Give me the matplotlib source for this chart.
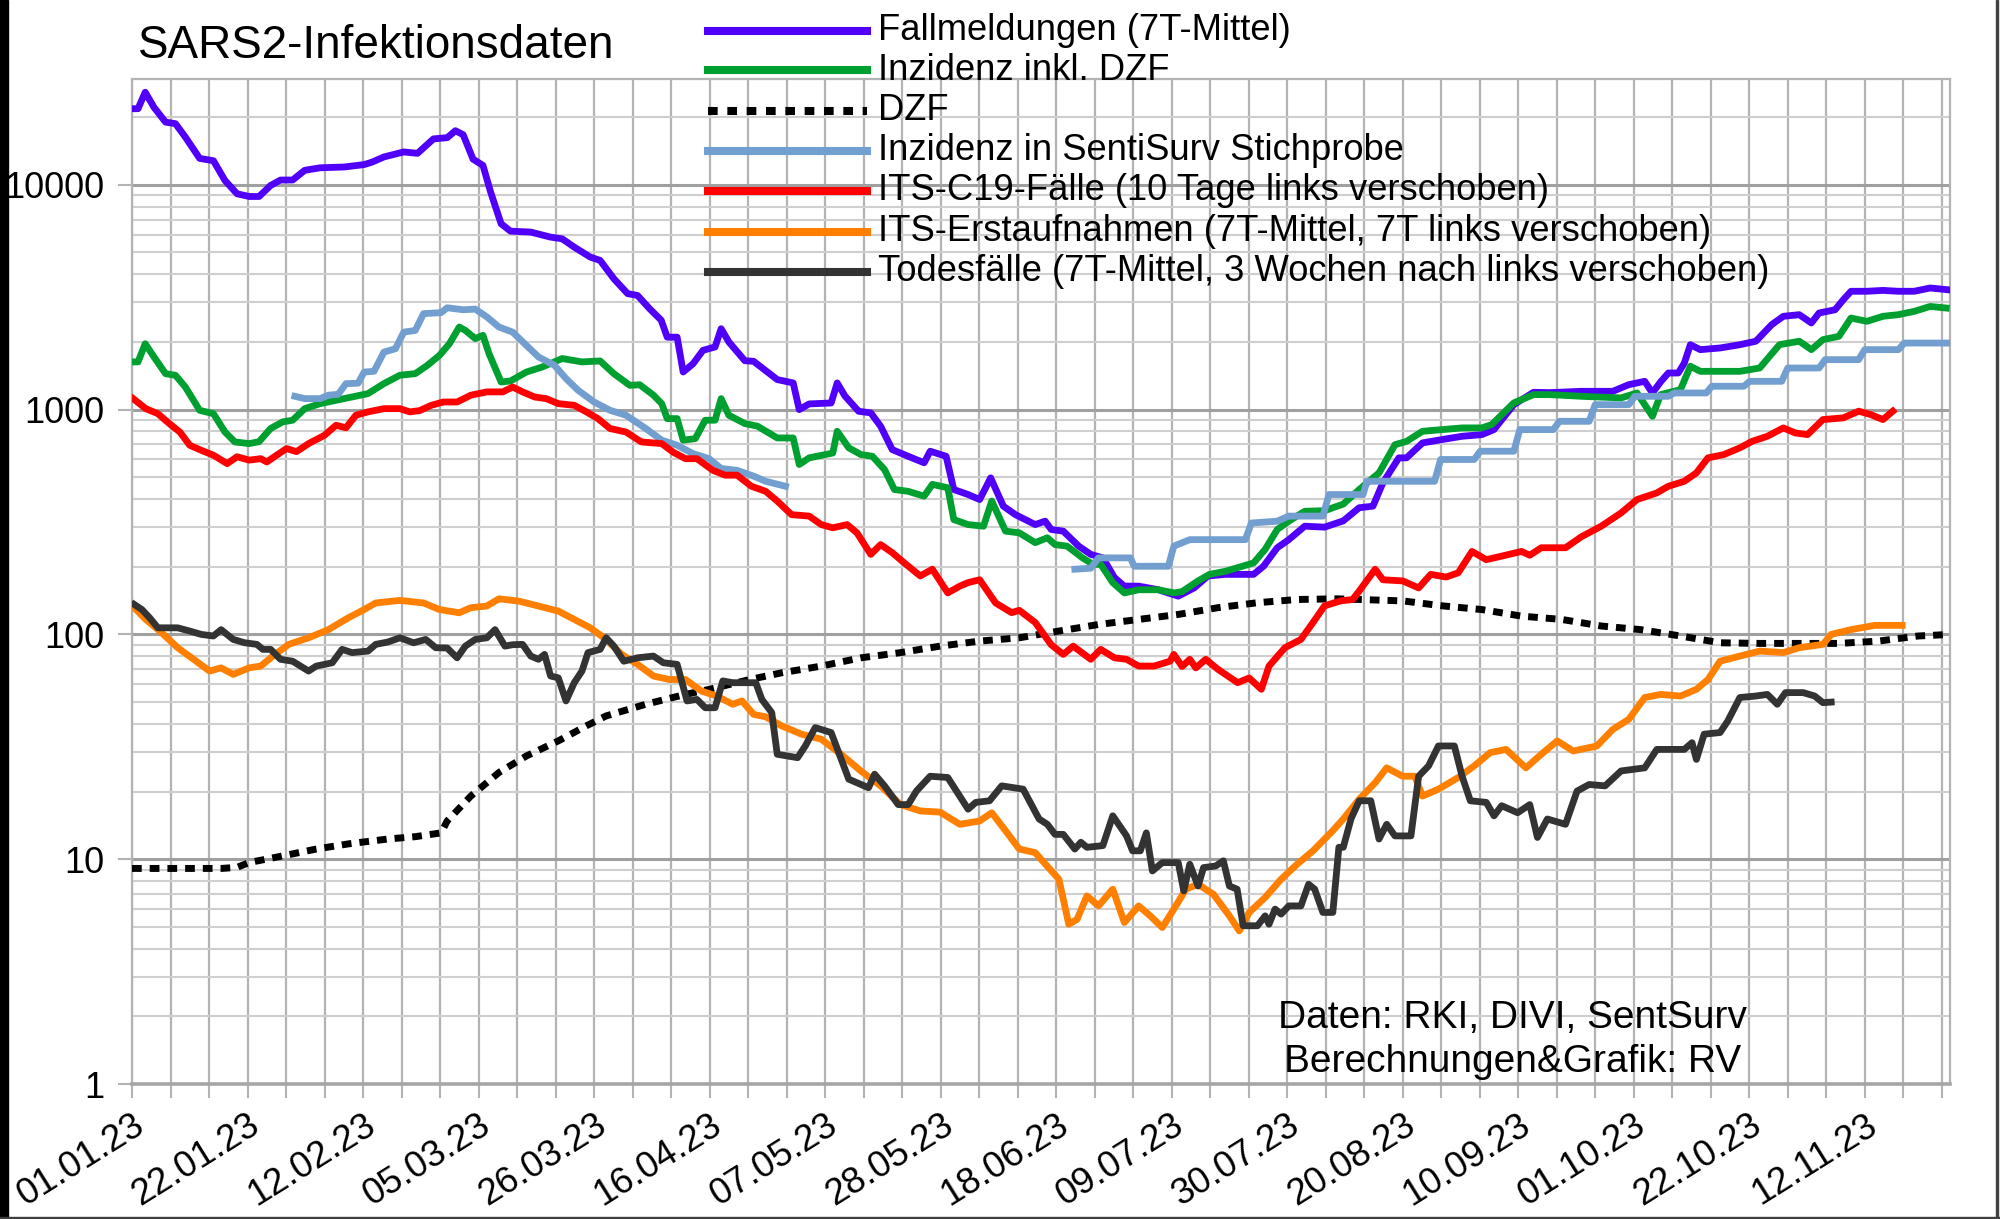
import numpy as np
import matplotlib
matplotlib.use("Agg")
import matplotlib.pyplot as plt
from matplotlib.lines import Line2D
from matplotlib.patches import Rectangle
import matplotlib.ticker as mticker

plt.rcParams['font.family'] = ['Liberation Sans', 'DejaVu Sans']

# ---------------- data (day offset from 01.01.23, value) ----------------
fall_days = [0, 1.1, 2.4, 4, 6.1, 7.9, 9.7, 12.3, 14.8, 16.9, 19.1, 21.3, 23.1, 25.2, 27, 29.2, 31.4, 34.2, 38.6,
             42.2, 43.6, 45.8, 49.4, 51.9, 54.8, 57.3, 58.8, 60.2, 62, 63.8, 65.2, 67.1, 68.8, 72.5, 76.1, 78.2,
             80.4, 83.3, 85.1, 87.6, 90.1, 91.9, 94.1, 96.2, 97.3, 99.1, 100.2, 102, 103.8, 106, 107.1, 108.5,
             111.4, 113, 117.3, 120.2, 121.3, 123.1, 127.1, 128.2, 129.6, 132.1, 134.3, 136.1, 138.2, 141.1, 144,
             145.1, 148, 149.4, 152, 154.1, 156.1, 158.4, 160.6, 164.2, 166, 167.1, 169.3, 172.1, 174.3, 176.5,
             178.6, 180.4, 183, 186.6, 190.2, 193.1, 195.6, 198.8, 203.9, 205.7, 208.2, 210.3, 213.2, 216.8,
             220.2, 223.1, 225.6, 227.4, 230.3, 231.7, 234.6, 238.2, 241.8, 245.4, 247.6, 251.2, 254.8, 257.7,
             263.5, 269.2, 272.1, 275, 276.4, 277.9, 279.3, 281.1, 282.2, 283.3, 285.1, 288.7, 292.3, 295.2,
             298.1, 300.2, 303.1, 305.3, 306.7, 309.6, 311.1, 312.5, 315.4, 318.3, 321.1, 324, 326.9, 330]
fall_vals = [21800, 21800, 25800, 22100, 19000, 18700, 16300, 13100, 12800, 10450, 9120, 8870, 8870, 9930, 10500,
             10500, 11600, 11900, 12000, 12300, 12600, 13300, 14000, 13800, 16000, 16200, 17400, 16700, 13000,
             12200, 9270, 6710, 6220, 6160, 5850, 5750, 5280, 4770, 4610, 3820, 3280, 3220, 2810, 2500, 2100,
             2100, 1470, 1600, 1835, 1900, 2290, 2000, 1650, 1640, 1360, 1314, 1000, 1060, 1070, 1314, 1150, 983,
             967, 843, 664, 620, 580, 653, 620, 441, 419, 398, 497, 372, 341, 308, 319, 293, 288, 247, 227, 219,
             179, 164, 164, 158, 148, 161, 182, 185, 185, 201, 243, 264, 303, 300, 320, 366, 372, 472, 610, 610,
             711, 736, 761, 774, 815, 1052, 1194, 1190, 1206, 1206, 1291, 1336, 1186, 1330, 1455, 1455, 1611,
             1944, 1848, 1880, 1944, 2014, 2389, 2600, 2644, 2428, 2690, 2780, 3080, 3360, 3360, 3390, 3360,
             3360, 3475, 3415]

inz_days = [0.2, 1.1, 2.4, 4, 6.1, 7.9, 9.7, 12.3, 14.8, 16.9, 18.7, 21.3, 23.1, 25.2, 27.4, 29.2, 31.4, 34.2,
            37.1, 40, 42.9, 45.8, 48.7, 51.5, 53.7, 55.9, 57.7, 59.5, 60.6, 62.4, 63.8, 64.9, 67.1, 68.8, 71.7,
            74.6, 78.2, 81.8, 85.1, 87.6, 90.5, 92.3, 94.8, 96.3, 97.3, 99.1, 100.2, 102.4, 104.2, 106, 107.1,
            108.5, 111.4, 113.7, 117.3, 120.2, 121.3, 123.1, 127.4, 128.2, 130.3, 132.5, 134.6, 136.8, 138.6,
            141.1, 144, 145.5, 148.3, 149.4, 152, 154.8, 156.3, 158.8, 161.3, 164.2, 166.4, 167.8, 170, 172.8,
            174.7, 176.1, 178.3, 180.4, 183, 186.6, 189.4, 190.9, 193.8, 195.9, 198.8, 203.9, 206, 208.2, 210.3,
            213.2, 216.8, 220.2, 223.1, 226.7, 229.6, 231.7, 234.6, 238.2, 241.8, 245.4, 247.2, 251.2, 254.8,
            257.7, 263.5, 270.7, 273.6, 276.4, 277.9, 281.5, 283.3, 285.1, 292.3, 295.9, 299.5, 303.1, 305.3,
            307.4, 310.3, 312.5, 315.4, 318.3, 321.1, 324, 326.9, 329.8]
inz_vals = [1630, 1630, 1963, 1714, 1445, 1421, 1260, 993, 959, 795, 718, 706, 720, 824, 882, 897, 1010, 1063,
            1100, 1138, 1178, 1305, 1422, 1445, 1574, 1743, 1963, 2330, 2250, 2070, 2140, 1775, 1327, 1340, 1469,
            1548, 1687, 1630, 1646, 1445, 1282, 1290, 1159, 1063, 912, 912, 731, 743, 897, 897, 1119, 944, 867,
            844, 748, 748, 570, 610, 641, 801, 676, 631, 620, 541, 441, 433, 412, 465, 449, 324, 308, 303, 392,
            288, 283, 256, 269, 251, 247, 219, 205, 205, 170, 153, 158, 158, 153, 155, 173, 185, 191, 208, 239,
            293, 319, 353, 355, 380, 441, 523, 698, 722, 801, 815, 829, 829, 858, 1071, 1166, 1166, 1146, 1127,
            1186, 934, 1166, 1227, 1559, 1480, 1480, 1531, 1944, 2014, 1848, 2047, 2118, 2554, 2470, 2600, 2644,
            2735, 2877, 2830]

dzf_days = [0, 16.2, 19.1, 21.3, 27, 33.5, 39.3, 46.5, 51.5, 56.2, 57.3, 61.6, 66.7, 71.7, 77.5, 82.6, 86.2,
            93.4, 100.6, 105, 112.3, 118.1, 125.3, 132.5, 139.7, 146.9, 154.1, 161.3, 168.5, 175.7, 183, 190.2,
            197.4, 204.6, 211.8, 219, 223.1, 231, 238.2, 245.4, 252.6, 259.9, 267.1, 274.3, 281.5, 288.7, 295.9,
            303.1, 310.3, 317.5, 324.7, 330.5]
dzf_vals = [9.1, 9.1, 9.2, 9.67, 10.3, 11.1, 11.7, 12.3, 12.6, 13.1, 14.8, 19.1, 24.3, 28.8, 33.6, 39.2, 43.4,
            48.9, 54.1, 57, 63, 67.5, 72.3, 78.7, 83, 88.7, 93.4, 96.6, 103.5, 110.7, 116.6, 122.7, 131.5, 138.4,
            143, 144, 143, 141, 134, 129, 120.6, 116.6, 109, 105, 98.4, 91.8, 91.2, 91.2, 91.2, 93.4, 98.4, 100]

senti1_days = [29.6, 31.4, 34.2, 35.7, 37.5, 38.9, 41.1, 42.2, 44, 45.8, 47.9, 49.4, 51.5, 53, 56.2, 57.3, 60.2,
               62.4, 64.5, 66.7, 69.2, 71.7, 73.9, 76.8, 78.9, 81.1, 84, 86.9, 89.8, 93.4, 96.3, 99.1, 102, 104.9,
               107.1, 110, 113, 115.2, 118.8]
senti1_vals = [1146, 1119, 1119, 1159, 1170, 1305, 1310, 1469, 1480, 1803, 1866, 2211, 2250, 2672, 2700, 2838,
               2780, 2800, 2585, 2330, 2211, 1930, 1714, 1574, 1374, 1219, 1081, 993, 944, 824, 731, 694, 637, 605,
               547, 537, 506, 480, 456]
senti2_days = [171.4, 174.3, 175.7, 181.5, 182.2, 188.4, 189.4, 192.3, 202.4, 203.5, 208.2, 210.3, 216.5, 217.6,
               223.8, 224.5, 236.8, 237.9, 244, 245.1, 251.2, 252.3, 258.4, 259.5, 264.9, 266, 272.1, 273.2,
               279.3, 280.4, 286.2, 287.2, 293, 294.1, 299.9, 301, 306.7, 307.8, 313.9, 315, 321.1, 322.2, 330]
senti2_vals = [195, 197, 219, 219, 201, 201, 247, 264, 264, 313, 319, 336, 336, 419, 419, 480, 480, 600, 600, 653,
               653, 815, 815, 887, 887, 1052, 1052, 1146, 1146, 1186, 1186, 1270, 1270, 1336, 1336, 1531, 1531,
               1668, 1668, 1848, 1848, 1977, 1977]

its_days = [0.2, 2.5, 4.7, 6.8, 8.7, 10.5, 12.6, 14.8, 17.3, 19.1, 21.3, 23.4, 24.5, 26.3, 28.1, 29.9, 32.1, 35,
            37.1, 38.9, 40.7, 42.9, 45.8, 48.7, 50.5, 52.3, 54.4, 56.6, 59.1, 61.6, 64.5, 67.4, 69.2, 71, 73.2,
            75.3, 77.5, 80.4, 82.6, 84.7, 86.9, 89.8, 92.6, 96.3, 98.4, 100.6, 102.7, 105.6, 107.8, 110, 112.6,
            115.2, 117.3, 119.9, 123.1, 125.3, 127.4, 130, 131.8, 134.3, 136.1, 138.2, 140.4, 143.3, 145.5, 148.3,
            150.5, 152, 154.1, 157, 159.9, 161.3, 164.2, 167.1, 169.3, 171.1, 174.3, 176.1, 178.6, 180.8, 183,
            185.8, 188.7, 189.4, 190.9, 192.3, 193.4, 195.2, 197.4, 201, 203.1, 205.3, 206.7, 209.6, 212.5, 214.7,
            216.8, 219.7, 221.9, 223.1, 226, 227.4, 231, 233.9, 236.1, 238.9, 241.1, 243.6, 246.2, 249, 252.6,
            254.1, 256.2, 260.6, 263.5, 267.1, 270.7, 273.6, 277.2, 279.3, 282.2, 284.4, 286.5, 289.4, 292.3,
            294.5, 297.3, 300.2, 302.4, 304.6, 307.4, 311.1, 313.9, 316.1, 318.3, 320.1]
its_vals = [1119, 1010, 959, 866, 795, 694, 659, 627, 575, 617, 596, 605, 585, 627, 671, 650, 706, 769, 852, 830,
            944, 977, 1010, 1010, 977, 990, 1045, 1081, 1081, 1159, 1199, 1199, 1260, 1199, 1138, 1119, 1063, 1045,
            977, 912, 824, 795, 718, 706, 646, 605, 605, 537, 511, 511, 456, 433, 392, 341, 336, 308, 298, 308,
            283, 227, 251, 231, 208, 182, 195, 153, 164, 170, 175, 138, 125, 128, 113, 90, 81.5, 88.7, 77.5, 85.8,
            78.7, 77.5, 72.3, 72.3, 76, 81.5, 72, 77.5, 71, 77.5, 70, 61, 64, 57, 72.3, 87.3, 95, 113, 134, 141,
            143, 156, 195, 175, 173, 161, 185, 180, 188, 234, 215, 223, 234, 225, 243, 243, 272, 303, 347, 398,
            426, 456, 480, 523, 610, 631, 676, 722, 761, 829, 787, 774, 903, 919, 984, 950, 903, 984]

erst_days = [0.4, 2.5, 5.4, 8.3, 11.2, 14.1, 16.2, 18.4, 21.3, 23.4, 25.6, 28.5, 32.1, 35.7, 39.3, 42.2, 44.3,
             48.7, 53, 55.9, 59.5, 61.6, 64.5, 66.7, 70.3, 73.9, 77.5, 80.4, 83.3, 86.2, 89, 91.9, 94.8, 97.7,
             100.6, 103.5, 106.3, 109.2, 110.9, 113, 115.2, 118.1, 121.7, 125.3, 128.9, 132.5, 136.1, 139.7, 143.3,
             146.9, 150.5, 154.1, 156.3, 158.4, 161.3, 164.2, 166.4, 168.5, 170.3, 171.8, 173.6, 175.7, 178.3,
             180.4, 183, 185.1, 187.3, 189.4, 191.6, 193.8, 196.6, 199.5, 201.3, 203.1, 206, 208.9, 211.8, 214.7,
             218.3, 220.2, 223.1, 226, 228.1, 231, 233.2, 234.6, 237.5, 241.1, 244, 246.9, 249.8, 253.4, 256.2,
             259.1, 262, 266.3, 269.2, 272.1, 275, 277.9, 281.5, 284.4, 286.5, 288.7, 292.3, 295.9, 300.2, 303.1,
             307.4, 308.9, 312.5, 316.8, 321.8]
erst_vals = [131.5, 116.6, 101.7, 87.3, 77.5, 68.7, 71, 66.4, 71, 72.3, 80.1, 90.3, 96.6, 105, 118.5, 129, 138,
             141.7, 138, 129, 124.8, 131.5, 133.7, 144, 140.7, 133.7, 127, 116.6, 107, 95, 81.5, 73.6, 65.3, 63, 63,
             56, 53.2, 48.9, 50.6, 44.1, 43, 39.2, 36, 34.2, 29.3, 24.7, 21.2, 17.5, 16.4, 16.2, 14.3, 14.8, 16.1,
             13.8, 11.1, 10.7, 9.3, 8.15, 5.14, 5.4, 6.87, 6.2, 7.36, 5.23, 6.2, 5.6, 4.97, 6.0, 7.36, 7.74, 6.98,
             5.6, 4.8, 5.8, 6.76, 8.15, 9.5, 10.9, 13.4, 15.1, 18.5, 21.9, 25.5, 23.4, 23.4, 19.1, 20.5, 23.1, 26,
             29.8, 30.8, 25.5, 29.3, 33.6, 30.3, 31.9, 37.8, 41.9, 52.4, 54.1, 53.2, 57, 63, 76, 80.1, 84.3, 83,
             87.3, 90.3, 100, 105, 109.7, 109.7]

tod_days = [0.4, 1.8, 3.2, 4.7, 8.3, 10.5, 12.6, 14.8, 16.2, 18.4, 20.5, 22.7, 23.8, 25.2, 27, 29.2, 32.1, 33.5,
            36.4, 38.2, 40, 42.9, 44.3, 46.5, 48.7, 51.2, 53.4, 55.2, 57.3, 59.1, 60.6, 62.4, 64.5, 66, 67.8, 69.2,
            71, 72.5, 73.9, 75, 76.1, 77.5, 78.9, 80.4, 81.8, 82.9, 85.1, 86.2, 87.6, 89.4, 91.9, 94.8, 96.6, 99.1,
            100.9, 102.7, 104.2, 106, 107.4, 109.2, 113.4, 114.5, 116.3, 117.3, 121, 122.4, 124.2, 127.1, 130.3,
            133.9, 135, 136.8, 139.3, 141.1, 142.6, 145.1, 148.3, 152, 153.4, 155.9, 158.1, 162, 164.9, 166.4,
            167.8, 169.3, 171.4, 172.5, 173.6, 176.5, 178.3, 180.8, 181.9, 183.3, 184.4, 185.5, 187.3, 190.2,
            191.2, 192.3, 193.8, 194.8, 197, 198.4, 199.5, 200.9, 202, 204.6, 206, 206.7, 207.8, 208.9, 210.3,
            212.5, 213.9, 215, 216.5, 218.3, 219.4, 220.2, 221.6, 223.1, 225.2, 226.7, 228.1, 229.6, 232.5, 233.9,
            235.7, 237.5, 240.4, 241.8, 243.3, 246.2, 247.6, 249, 251.9, 254.1, 255.5, 257.3, 260.6, 262.7, 264.9,
            267.8, 270.7, 275, 277.2, 282.2, 283.6, 284.4, 285.8, 288.7, 290.1, 292.3, 295.2, 297.3, 299.1, 300.6,
            303.8, 305.9, 307.4, 308.9]
tod_vals = [136, 129, 118.6, 107, 107, 103.5, 100, 98.4, 105, 95, 91.8, 90.3, 85.8, 85.8, 77.5, 76, 68.7, 72.3,
            74.8, 85.8, 83, 84.3, 90.3, 92.5, 96.6, 91.8, 95, 87.3, 87, 78.7, 88.7, 95, 96.6, 105, 88.7, 90, 90.3,
            80.1, 77.5, 81.5, 65.3, 64.1, 50.6, 61, 68.7, 83, 85.8, 96.6, 88.7, 76, 78.7, 80.1, 74.8, 73.6, 50.6,
            51.4, 47.2, 47.2, 62.1, 61, 61, 51.4, 44.9, 29.3, 28.3, 31.9, 38.5, 36.6, 22.7, 20.8, 23.9, 21.2, 17.5,
            17.5, 20.1, 23.4, 23.1, 16.7, 17.9, 18.2, 21.2, 20.5, 15.1, 14.3, 12.9, 12.9, 11.1, 11.9, 11.3, 11.5,
            15.6, 12.7, 10.9, 10.9, 13.1, 8.87, 9.66, 9.66, 7.23, 9.5, 7.6, 9.18, 9.33, 9.84, 7.6, 7.36, 5.06,
            5.06, 5.6, 5.14, 6.0, 5.7, 6.2, 6.2, 7.74, 7.36, 5.8, 5.8, 11.3, 11.3, 15.1, 18.2, 18.2, 12.3, 14.3,
            12.7, 12.7, 23.4, 26, 31.9, 31.9, 23.4, 18.2, 17.9, 15.6, 17.3, 16.1, 17.5, 12.5, 15.1, 14.3, 20.1,
            21.5, 21.2, 24.7, 25.5, 30.8, 30.8, 33, 27.8, 36, 36.6, 41.2, 52.4, 53.2, 54.1, 48.9, 55.1, 55.1, 53.2,
            49.7, 50]

tick_labels = ["01.01.23", "22.01.23", "12.02.23", "05.03.23", "26.03.23", "16.04.23", "07.05.23", "28.05.23",
               "18.06.23", "09.07.23", "30.07.23", "20.08.23", "10.09.23", "01.10.23", "22.10.23", "12.11.23"]
y_ticks = [1, 10, 100, 1000, 10000]

labels = ["Fallmeldungen (7T-Mittel)", "Inzidenz inkl. DZF", "DZF", "Inzidenz in SentiSurv Stichprobe",
          "ITS-C19-Fälle (10 Tage links verschoben)", "ITS-Erstaufnahmen (7T-Mittel, 7T links verschoben)",
          "Todesfälle (7T-Mittel, 3 Wochen nach links verschoben)"]
colors = ["#5000f8", "#00a030", "#000000", "#729fcf", "#ff0000", "#ff8000", "#333333"]

# ---------------- figure ----------------
fig = plt.figure(figsize=(20, 12.19), dpi=100)
ax = fig.add_axes([0.066, 0.1107, 0.909, 0.8249])
ax.set_yscale('log')
ax.set_xlim(0, 330.5)
ax.set_ylim(1, 29700)

LW = 4.9
ax.plot(fall_days, fall_vals, color=colors[0], lw=LW, solid_joinstyle='round', zorder=3)
ax.plot(inz_days, inz_vals, color=colors[1], lw=LW, solid_joinstyle='round', zorder=4)
ax.plot(dzf_days, dzf_vals, color=colors[2], lw=5.0, linestyle=(0, (1.4, 1.15)), zorder=5)
ax.plot(senti1_days, senti1_vals, color=colors[3], lw=LW, zorder=6)
ax.plot(senti2_days, senti2_vals, color=colors[3], lw=LW, zorder=6)
ax.plot(its_days, its_vals, color=colors[4], lw=LW, solid_joinstyle='round', zorder=7)
ax.plot(erst_days, erst_vals, color=colors[5], lw=LW, solid_joinstyle='round', zorder=8)
ax.plot(tod_days, tod_vals, color=colors[6], lw=LW, solid_joinstyle='round', zorder=9)

# x ticks every 7 days, labels every 21 days
xt = np.arange(0, 330, 7)
ax.set_xticks(xt)
xl = []
for i, _ in enumerate(xt):
    xl.append(tick_labels[i // 3] if i % 3 == 0 and i // 3 < len(tick_labels) else "")
ax.set_xticklabels(xl, rotation=32, ha='right', va='top', rotation_mode='anchor', fontsize=26.5)
ax.set_yticks(y_ticks)
ax.set_yticklabels([str(v) for v in y_ticks], fontsize=26)
ax.yaxis.set_minor_locator(mticker.LogLocator(base=10, subs=np.arange(2, 10)))
ax.yaxis.set_minor_formatter(mticker.NullFormatter())
ax.tick_params(axis='x', which='major', length=10, width=1.5, color='#b3b3b3', pad=7)
ax.tick_params(axis='y', which='major', length=10, width=1.5, color='#b3b3b3', pad=10)
ax.tick_params(axis='y', which='minor', length=0)

ax.set_axisbelow(True)
ax.grid(True, which='major', axis='x', color='#b3b3b3', lw=1.6)
ax.grid(True, which='major', axis='y', color='#a0a0a0', lw=2.2)
ax.grid(True, which='minor', axis='y', color='#cfcfcf', lw=1.5)
for s in ['left', 'right', 'top']:
    ax.spines[s].set_color('#b3b3b3')
    ax.spines[s].set_linewidth(1.6)
ax.spines['bottom'].set_color('#a6a6a6')
ax.spines['bottom'].set_linewidth(2.6)

# title
fig.text(0.0689, 0.962, "SARS2-Infektionsdaten", fontsize=33, ha='left', va='center')

# legend (manual)
row_y = [30.5, 70, 110.5, 150.5, 191, 231.5, 271.5]
for i, lab in enumerate(labels):
    yf = 1 - row_y[i] / 1219
    if i == 2:
        ln = Line2D([0.354, 0.4337], [yf, yf], transform=fig.transFigure, color=colors[i], lw=5.8,
                    linestyle=(0, (1.2, 1.2)))
    else:
        ln = Line2D([0.354, 0.4337], [yf, yf], transform=fig.transFigure, color=colors[i], lw=5.8)
    fig.add_artist(ln)
    fig.text(0.4388, yf, lab, fontsize=26.2, ha='left', va='center')

# source note
fig.text(0.7563, 0.1649, "Daten: RKI, DIVI, SentSurv", fontsize=28, ha='center', va='center')
fig.text(0.7563, 0.1284, "Berechnungen&Grafik: RV", fontsize=28, ha='center', va='center')

# image border
fig.add_artist(Rectangle((0, 0), 0.004, 1, transform=fig.transFigure, color='black'))
fig.add_artist(Rectangle((0, 0), 1, 0.0018, transform=fig.transFigure, color='#404040'))
fig.add_artist(Rectangle((0.9978, 0), 0.0012, 1, transform=fig.transFigure, color='#404040'))

fig.savefig("out.png", dpi=100)
